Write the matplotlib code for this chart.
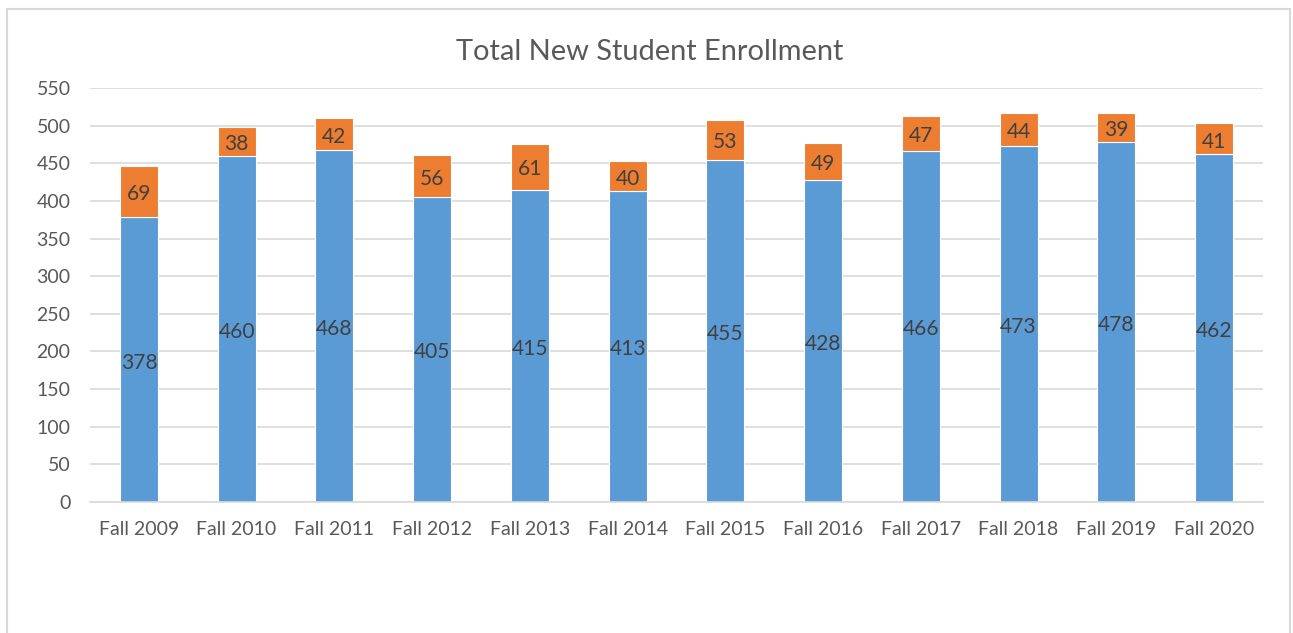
import numpy as np
import matplotlib
matplotlib.use("Agg")
from matplotlib import pyplot as plt
from matplotlib.patches import Rectangle

years = ["Fall 2009", "Fall 2010", "Fall 2011", "Fall 2012", "Fall 2013", "Fall 2014",
         "Fall 2015", "Fall 2016", "Fall 2017", "Fall 2018", "Fall 2019", "Fall 2020"]
blue_vals = [378, 460, 468, 405, 415, 413, 455, 428, 466, 473, 478, 462]
orange_vals = [69, 38, 42, 56, 61, 40, 53, 49, 47, 44, 39, 41]

BLUE = "#5b9bd5"
ORANGE = "#ed7d31"
GRID = "#d9d9d9"

plt.rcParams['font.family'] = ['Lato', 'DejaVu Sans']

fig = plt.figure(figsize=(12.93, 6.33), dpi=100)
ax = fig.add_axes([90/1293, 131/633, 1173/1293, 414/633])

x = np.arange(len(years))
w = 0.39
ax.bar(x, blue_vals, w, color=BLUE, edgecolor="white", linewidth=0.8, zorder=2)
ax.bar(x, orange_vals, w, bottom=blue_vals, color=ORANGE, edgecolor="white", linewidth=0.8, zorder=2)

# data labels, centred in each segment
for xi, b, o in zip(x, blue_vals, orange_vals):
    for val, yc in [(b, b / 2), (o, b + o / 2)]:
        ax.annotate(str(val), (xi, yc), xytext=(0, -2), textcoords="offset points",
                    ha="center", va="center", fontsize=15.1, color="#404040", zorder=3)

ax.set_xlim(-0.5, len(years) - 0.5)
ax.set_ylim(0, 550)
ax.set_yticks(np.arange(0, 551, 50))
ax.set_xticks(x)
ax.set_xticklabels(years)
ax.tick_params(axis="both", length=0, labelsize=14, colors="#595959")
ax.tick_params(axis="x", pad=14)
ax.tick_params(axis="y", pad=14)
ax.grid(axis="y", color=GRID, linewidth=1.2, zorder=0)
for s in ["top", "right", "left"]:
    ax.spines[s].set_visible(False)
ax.spines["bottom"].set_color(GRID)
ax.spines["bottom"].set_linewidth(1.2)
ax.set_axisbelow(True)

fig.text(650/1293, 1 - 52/633, "Total New Student Enrollment", ha="center", va="center",
         fontsize=20.9, color="#595959")

fig.patches.append(Rectangle((7/1293, -0.1), 1283/1293, 1.1 - 9/633, transform=fig.transFigure,
                             fill=False, edgecolor=GRID, linewidth=1.5))

fig.savefig("out.png", dpi=100)
